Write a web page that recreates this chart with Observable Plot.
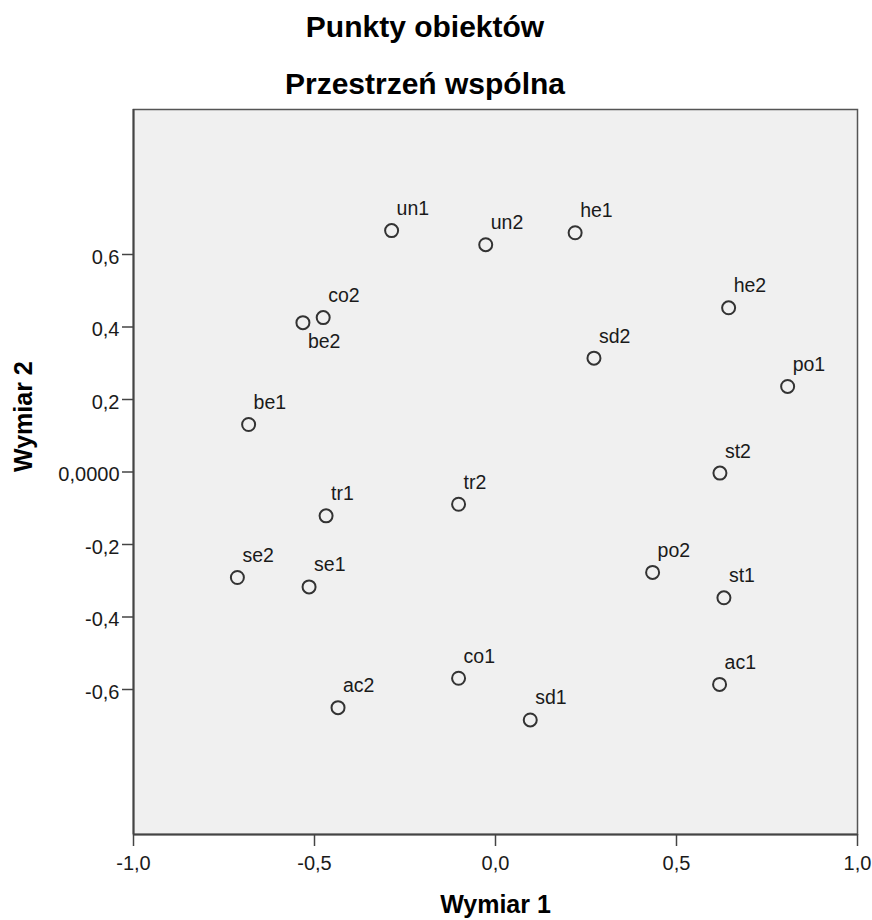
<!DOCTYPE html>
<html><head><meta charset="utf-8">
<script src="https://cdn.jsdelivr.net/npm/d3@7"></script>
<script src="https://cdn.jsdelivr.net/npm/@observablehq/plot@0.6"></script>
<style>
body{margin:0;background:#fff;font-family:"Liberation Sans",Arial,sans-serif}
#wrap{position:relative;width:872px;height:920px;overflow:hidden}
#wrap svg{position:absolute;left:0;top:0}
.t{position:absolute;left:0;width:850px;text-align:center;font-weight:bold;font-size:30px;color:#000;line-height:30px;white-space:nowrap}
#t1{top:11.6px}
#t2{top:68.6px}
</style></head><body>
<div id="wrap"></div>
<script>
const names = ["un1","un2","he1","he2","co2","be2","sd2","po1","be1","st2","tr2","tr1","se2","se1","po2","st1","co1","ac1","ac2","sd1"];
const dim1  = [-0.287,-0.027,0.220,0.644,-0.476,-0.532,0.272,0.807,-0.682,0.620,-0.102,-0.468,-0.713,-0.515,0.434,0.631,-0.102,0.619,-0.435,0.096];
const dim2  = [0.666,0.627,0.660,0.453,0.426,0.412,0.314,0.236,0.131,-0.003,-0.089,-0.121,-0.291,-0.317,-0.277,-0.347,-0.569,-0.586,-0.650,-0.684];
const xTicks = [-1,-0.5,0,0.5,1];
const xTickLabels = ["-1,0","-0,5","0,0","0,5","1,0"];
const yTicks = [-0.6,-0.4,-0.2,0,0.2,0.4,0.6];
const yTickLabels = ["-0,6","-0,4","-0,2","0,0000","0,2","0,4","0,6"];
const title = "Punkty obiektów";
const subtitle = "Przestrzeń wspólna";
const xLabel = "Wymiar 1";
const yLabel = "Wymiar 2";

const data = names.map((n,i)=>({name:n, x:dim1[i], y:dim2[i]}));
const below = d => d.name === "be2";

const font = "Liberation Sans, Arial, sans-serif";
const plot = Plot.plot({
  width: 872, height: 920,
  marginTop: 109, marginBottom: 86, marginLeft: 133, marginRight: 15,
  style: {fontFamily: font, fontSize: "20px", color: "#1a1a1a", background: "transparent", overflow: "visible"},
  x: {domain: [-1, 1]},
  y: {domain: [-1, 1]},
  marks: [
    Plot.frame({fill: "#f0f0f0", stroke: "#555", strokeWidth: 1.5}),
    Plot.ruleX([-1], {stroke: "#444", strokeWidth: 2}),
    Plot.ruleY([-1], {stroke: "#444", strokeWidth: 2}),
    Plot.axisX({ticks: xTicks, tickFormat: d => xTickLabels[xTicks.indexOf(d)], tickSize: 12, tickPadding: 9, label: null, stroke: "#444", strokeWidth: 1.5, fontSize: 20, fill: "#1a1a1a"}),
    Plot.axisY({ticks: yTicks, tickFormat: () => "", tickSize: 11, label: null, stroke: "#444", strokeWidth: 1.5}),
    Plot.axisY({ticks: yTicks, tickFormat: d => yTickLabels[yTicks.indexOf(d)], tickSize: 0, tickPadding: 14, dy: 3, label: null, fontSize: 20, fill: "#1a1a1a"}),
    Plot.dot(data, {x: "x", y: "y", r: 6.5, stroke: "#333", strokeWidth: 2, fill: "none"}),
    Plot.text(data.filter(d => !below(d)), {x: "x", y: "y", text: "name", textAnchor: "start", lineAnchor: "bottom", dx: 5, dy: -15.5, fontSize: 19.5, fill: "#1a1a1a"}),
    Plot.text(data.filter(below), {x: "x", y: "y", text: "name", textAnchor: "start", lineAnchor: "bottom", dx: 5, dy: 25, fontSize: 19.5, fill: "#1a1a1a"}),
    Plot.text([xLabel], {frameAnchor: "bottom", dy: 78, lineAnchor: "bottom", fontWeight: "bold", fontSize: 25, fill: "#000"}),
    Plot.text([yLabel], {frameAnchor: "left", rotate: -90, dx: -102, lineAnchor: "bottom", fontWeight: "bold", fontSize: 25, fill: "#000"})
  ]
});
const wrap = document.getElementById("wrap");
wrap.appendChild(plot);
for (const [id, txt] of [["t1", title], ["t2", subtitle]]) {
  const d = document.createElement("div");
  d.className = "t"; d.id = id; d.textContent = txt;
  wrap.appendChild(d);
}
</script>
</body></html>
